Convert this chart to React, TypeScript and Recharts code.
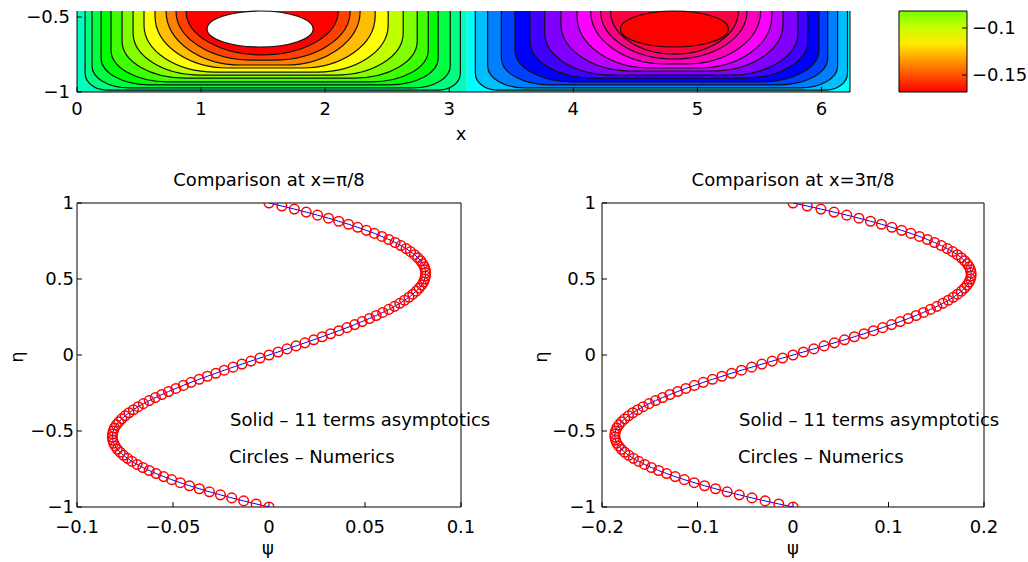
import { ScatterChart, Scatter, XAxis, YAxis, ReferenceArea, ReferenceLine } from 'recharts';

// eta grid of the two profile plots
const ETA = [
  -1, -0.98, -0.96, -0.94, -0.92, -0.9, -0.88, -0.86, -0.84, -0.82, -0.8, -0.78, -0.76, -0.74, -0.72, -0.7, -0.68,
  -0.66, -0.64, -0.62, -0.6, -0.58, -0.56, -0.54, -0.52, -0.5, -0.48, -0.46, -0.44, -0.42, -0.4, -0.38, -0.36,
  -0.34, -0.32, -0.3, -0.28, -0.26, -0.24, -0.22, -0.2, -0.18, -0.16, -0.14, -0.12, -0.1, -0.08, -0.06, -0.04,
  -0.02, 0, 0.02, 0.04, 0.06, 0.08, 0.1, 0.12, 0.14, 0.16, 0.18, 0.2, 0.22, 0.24, 0.26, 0.28, 0.3, 0.32, 0.34,
  0.36, 0.38, 0.4, 0.42, 0.44, 0.46, 0.48, 0.5, 0.52, 0.54, 0.56, 0.58, 0.6, 0.62, 0.64, 0.66, 0.68, 0.7, 0.72,
  0.74, 0.76, 0.78, 0.8, 0.82, 0.84, 0.86, 0.88, 0.9, 0.92, 0.94, 0.96, 0.98, 1,
];

// psi at x = pi/8
const PSI_PI_8 = [
  0, -0.0067, -0.0132, -0.0194, -0.0253, -0.031, -0.0363, -0.0414, -0.0462, -0.0507, -0.0549, -0.0588, -0.0624,
  -0.0657, -0.0687, -0.0714, -0.0737, -0.0758, -0.0775, -0.079, -0.0801, -0.0809, -0.0814, -0.0816, -0.0815,
  -0.0811, -0.0805, -0.0795, -0.0782, -0.0767, -0.0749, -0.0729, -0.0706, -0.0681, -0.0654, -0.0624, -0.0592,
  -0.0558, -0.0523, -0.0485, -0.0446, -0.0406, -0.0364, -0.0321, -0.0277, -0.0233, -0.0187, -0.0141, -0.0094,
  -0.0047, 0, 0.0047, 0.0094, 0.0141, 0.0187, 0.0233, 0.0277, 0.0321, 0.0364, 0.0406, 0.0446, 0.0485, 0.0523,
  0.0558, 0.0592, 0.0624, 0.0654, 0.0681, 0.0706, 0.0729, 0.0749, 0.0767, 0.0782, 0.0795, 0.0805, 0.0811, 0.0815,
  0.0816, 0.0814, 0.0809, 0.0801, 0.079, 0.0775, 0.0758, 0.0737, 0.0714, 0.0687, 0.0657, 0.0624, 0.0588, 0.0549,
  0.0507, 0.0462, 0.0414, 0.0363, 0.031, 0.0253, 0.0194, 0.0132, 0.0067, 0,
];

// psi at x = 3pi/8
const PSI_3PI_8 = [
  0, -0.0149, -0.0292, -0.043, -0.0563, -0.069, -0.0811, -0.0926, -0.1035, -0.1138, -0.1234, -0.1324, -0.1407,
  -0.1483, -0.1553, -0.1615, -0.1671, -0.172, -0.1762, -0.1796, -0.1824, -0.1845, -0.1858, -0.1865, -0.1865,
  -0.1858, -0.1844, -0.1823, -0.1796, -0.1763, -0.1723, -0.1678, -0.1626, -0.1569, -0.1507, -0.1439, -0.1366,
  -0.1289, -0.1207, -0.1122, -0.1032, -0.0939, -0.0843, -0.0744, -0.0642, -0.0539, -0.0433, -0.0326, -0.0218,
  -0.0109, 0, 0.0109, 0.0218, 0.0326, 0.0433, 0.0539, 0.0642, 0.0744, 0.0843, 0.0939, 0.1032, 0.1122, 0.1207,
  0.1289, 0.1366, 0.1439, 0.1507, 0.1569, 0.1626, 0.1678, 0.1723, 0.1763, 0.1796, 0.1823, 0.1844, 0.1858, 0.1865,
  0.1865, 0.1858, 0.1845, 0.1824, 0.1796, 0.1762, 0.172, 0.1671, 0.1615, 0.1553, 0.1483, 0.1407, 0.1324, 0.1234,
  0.1138, 0.1035, 0.0926, 0.0811, 0.069, 0.0563, 0.043, 0.0292, 0.0149, 0,
];

const ETA_TICKS = [-1, -0.5, 0, 0.5, 1];
const PSI_TICKS_PI_8 = [-0.1, -0.05, 0, 0.05, 0.1];
const PSI_TICKS_3PI_8 = [-0.2, -0.1, 0, 0.1, 0.2];

// top panel (contour map, cut off above eta = -0.46)
const X_MAX = 6.23;
const ETA_TOP = -0.46;
const X_TICKS = [0, 1, 2, 3, 4, 5, 6];
const ETA_TICKS_TOP = [-1, -0.5];

// contour lines, outermost first: left / right extent at the top edge and lowest eta
const LEFT_CELL_X1 = [0.065, 0.121, 0.194, 0.274, 0.363, 0.452, 0.54, 0.629, 0.718, 0.798, 0.879, 1.048];
const LEFT_CELL_X2 = [3.09, 3.008, 2.911, 2.831, 2.742, 2.629, 2.508, 2.403, 2.282, 2.202, 2.105, 1.903];
const LEFT_CELL_BOTTOM = [-0.987, -0.973, -0.953, -0.933, -0.907, -0.887, -0.867, -0.84, -0.82, -0.787, -0.753, -0.7];
const RIGHT_CELL_X1 = [3.21, 3.31, 3.42, 3.53, 3.65, 3.77, 3.9, 4.03, 4.14, 4.22, 4.3, 4.38];
const RIGHT_CELL_X2 = [6.21, 6.13, 6.05, 5.98, 5.89, 5.81, 5.69, 5.6, 5.51, 5.4, 5.33, 5.25];
const RIGHT_CELL_BOTTOM = [-0.987, -0.973, -0.953, -0.933, -0.907, -0.887, -0.86, -0.84, -0.813, -0.78, -0.747, -0.7];

// colorbar
const CBAR_MIN = -0.168;
const CBAR_MAX = -0.082;
const CBAR_TICKS = [-0.15, -0.1];
const V_LIMIT = 0.168;

const FONT = '"DejaVu Sans", "Liberation Sans", Arial, sans-serif';
const tickStyle = { fill: '#000', fontSize: 18, fontFamily: FONT };
const fmt = (v: number) => (v < 0 ? '\u2212' + String(-v) : String(v));
const hsv = (h: number) => `hsl(${h}, 100%, 50%)`;
const hueOf = (v: number) => 180 * (1 + v / V_LIMIT);
const noMark = () => <g />;

function contourShape(p: any, level: number, fill: string, inner: boolean) {
  const { x, y, width: w, height: h } = p;
  if (inner) {
    return <ellipse cx={x + w / 2} cy={y + h / 2} rx={w / 2} ry={h / 2} fill={fill} stroke="#111" strokeWidth={1.2} />;
  }
  const rx = Math.min(w / 2, 80 * (1 - Math.exp(-level / 3.2)));
  const ry = Math.min(h, 12 + 5 * level);
  const L = x, R = x + w, T = y, B = y + h;
  const d = `M${L},${T} L${L},${B - ry} A${rx},${ry} 0 0 0 ${L + rx},${B} L${R - rx},${B} A${rx},${ry} 0 0 0 ${R},${B - ry} L${R},${T}`;
  return (
    <g>
      <path d={d + ' Z'} fill={fill} stroke="none" />
      <path d={d} fill="none" stroke="#111" strokeWidth={1.2} />
    </g>
  );
}

function ContourPanel() {
  const n = LEFT_CELL_X1.length;
  // contour corner points, only used so the axes have data behind them
  const corners = [
    ...LEFT_CELL_X1.map((x, i) => ({ x, eta: LEFT_CELL_BOTTOM[i] })),
    ...RIGHT_CELL_X2.map((x, i) => ({ x, eta: RIGHT_CELL_BOTTOM[i] })),
  ];
  return (
    <ScatterChart width={880} height={145} margin={{ top: 11, right: 30, bottom: 23, left: 17 }}>
      <XAxis type="number" dataKey="x" domain={[0, X_MAX]} ticks={X_TICKS} interval={0} allowDataOverflow tickFormatter={fmt}
        tick={tickStyle} tickSize={-5} tickMargin={15} height={30} stroke="#000" />
      <YAxis type="number" dataKey="eta" domain={[-1, ETA_TOP]} ticks={ETA_TICKS_TOP} interval={0} allowDataOverflow
        tickFormatter={fmt} tick={tickStyle} tickSize={-5} tickMargin={12} width={60} stroke="#000" />
      <ReferenceArea x1={0} x2={Math.PI} y1={-1} y2={ETA_TOP} fill={hsv(165)} fillOpacity={1} stroke="none" />
      <ReferenceArea x1={Math.PI} x2={X_MAX} y1={-1} y2={ETA_TOP} fill={hsv(180)} fillOpacity={1} stroke="none" />
      {LEFT_CELL_X1.map((x1, i) => (
        <ReferenceArea key={'l' + i} x1={x1} x2={LEFT_CELL_X2[i]} y1={LEFT_CELL_BOTTOM[i]} y2={ETA_TOP}
          shape={(p: any) => contourShape(p, i + 1, i === n - 1 ? '#fff' : hsv(165 - 15 * (i + 1)), i === n - 1)} />
      ))}
      {RIGHT_CELL_X1.map((x1, i) => (
        <ReferenceArea key={'r' + i} x1={x1} x2={RIGHT_CELL_X2[i]} y1={RIGHT_CELL_BOTTOM[i]} y2={ETA_TOP}
          shape={(p: any) => contourShape(p, i + 1, hsv(180 + 15 * (i + 1)), i === n - 1)} />
      ))}
      <ReferenceLine x={X_MAX} stroke="#000" />
      <Scatter data={corners} shape={noMark} isAnimationActive={false} />
    </ScatterChart>
  );
}

function ColorBar() {
  const stops = [0, 0.2, 0.4, 0.6, 0.8, 1];
  const ends = [{ x: 0, v: CBAR_MIN }, { x: 1, v: CBAR_MAX }];
  return (
    <ScatterChart width={148} height={145} margin={{ top: 11, right: 11, bottom: 53, left: 19 }}>
      <defs>
        <linearGradient id="cbar" x1="0" y1="0" x2="0" y2="1">
          {stops.map((s) => (
            <stop key={s} offset={s} stopColor={hsv(hueOf(CBAR_MAX - s * (CBAR_MAX - CBAR_MIN)))} />
          ))}
        </linearGradient>
      </defs>
      <XAxis type="number" dataKey="x" domain={[0, 1]} hide />
      <YAxis type="number" dataKey="v" orientation="right" domain={[CBAR_MIN, CBAR_MAX]} ticks={CBAR_TICKS} interval={0}
        allowDataOverflow tickFormatter={fmt} tick={tickStyle} tickSize={-5} tickMargin={10} width={50}
        axisLine={false} stroke="#000" />
      <ReferenceArea x1={0} x2={1} y1={CBAR_MIN} y2={CBAR_MAX} fill="url(#cbar)" fillOpacity={1} stroke="#000" />
      <Scatter data={ends} shape={noMark} isAnimationActive={false} />
    </ScatterChart>
  );
}

function Profile({ psi, ticks, width, right, yMargin }: { psi: number[]; ticks: number[]; width: number; right: number; yMargin: number }) {
  const data = ETA.map((eta, i) => ({ psi: psi[i], eta }));
  const domain = [ticks[0], ticks[ticks.length - 1]];
  return (
    <ScatterChart width={width} height={402} margin={{ top: 42, right, bottom: 25, left: 17 }}>
      <XAxis xAxisId="b" type="number" dataKey="psi" domain={domain} ticks={ticks} interval={0} allowDataOverflow
        tickFormatter={fmt} tick={tickStyle} tickSize={-5} tickMargin={18} height={30} stroke="#000" />
      <XAxis xAxisId="t" orientation="top" type="number" domain={domain} ticks={ticks} interval={0} allowDataOverflow
        tick={false} tickSize={-5} height={1} stroke="#000" />
      <YAxis yAxisId="l" type="number" dataKey="eta" domain={[-1, 1]} ticks={ETA_TICKS} interval={0} allowDataOverflow
        tickFormatter={fmt} tick={tickStyle} tickSize={-5} tickMargin={yMargin} width={60} stroke="#000" />
      <YAxis yAxisId="r" orientation="right" type="number" domain={[-1, 1]} ticks={ETA_TICKS} interval={0}
        allowDataOverflow tick={false} tickSize={-5} width={1} stroke="#000" />
      <Scatter xAxisId="b" yAxisId="l" data={data} line={{ stroke: '#0000ff', strokeWidth: 1 }} shape={noMark}
        isAnimationActive={false} />
      <Scatter xAxisId="b" yAxisId="l" data={data} isAnimationActive={false}
        shape={(p: any) => <circle cx={p.cx} cy={p.cy} r={4.8} fill="none" stroke="#ff0000" strokeWidth={1.5} />} />
    </ScatterChart>
  );
}

export default function App() {
  const txt = { fontFamily: FONT, fontSize: 18, fill: '#000' };
  return (
    <div style={{ position: 'absolute', left: 0, top: 0, width: 1028, height: 562, background: '#fff' }}>
      <div style={{ position: 'absolute', left: 0, top: 0 }}><ContourPanel /></div>
      <div style={{ position: 'absolute', left: 880, top: 0 }}><ColorBar /></div>
      <div style={{ position: 'absolute', left: 0, top: 160 }}>
        <Profile psi={PSI_PI_8} ticks={PSI_TICKS_PI_8} width={510} right={48} yMargin={8} />
      </div>
      <div style={{ position: 'absolute', left: 525, top: 160 }}>
        <Profile psi={PSI_3PI_8} ticks={PSI_TICKS_3PI_8} width={503} right={43} yMargin={11} />
      </div>
      <svg width={1028} height={562} style={{ position: 'absolute', left: 0, top: 0, pointerEvents: 'none' }}>
        <text x={461} y={140} textAnchor="middle" {...txt}>x</text>
        <text x={269} y={186} textAnchor="middle" {...txt}>Comparison at x=π/8</text>
        <text x={793} y={186} textAnchor="middle" {...txt}>Comparison at x=3π/8</text>
        <text x={268} y={554} textAnchor="middle" {...txt}>ψ</text>
        <text x={793} y={554} textAnchor="middle" {...txt}>ψ</text>
        <text transform="translate(23,357) rotate(-90)" textAnchor="middle" {...txt}>η</text>
        <text transform="translate(547,357) rotate(-90)" textAnchor="middle" {...txt}>η</text>
        <text x={230} y={426} {...txt}>Solid – 11 terms asymptotics</text>
        <text x={229} y={463} {...txt}>Circles – Numerics</text>
        <text x={739} y={426} {...txt}>Solid – 11 terms asymptotics</text>
        <text x={738} y={463} {...txt}>Circles – Numerics</text>
      </svg>
    </div>
  );
}
